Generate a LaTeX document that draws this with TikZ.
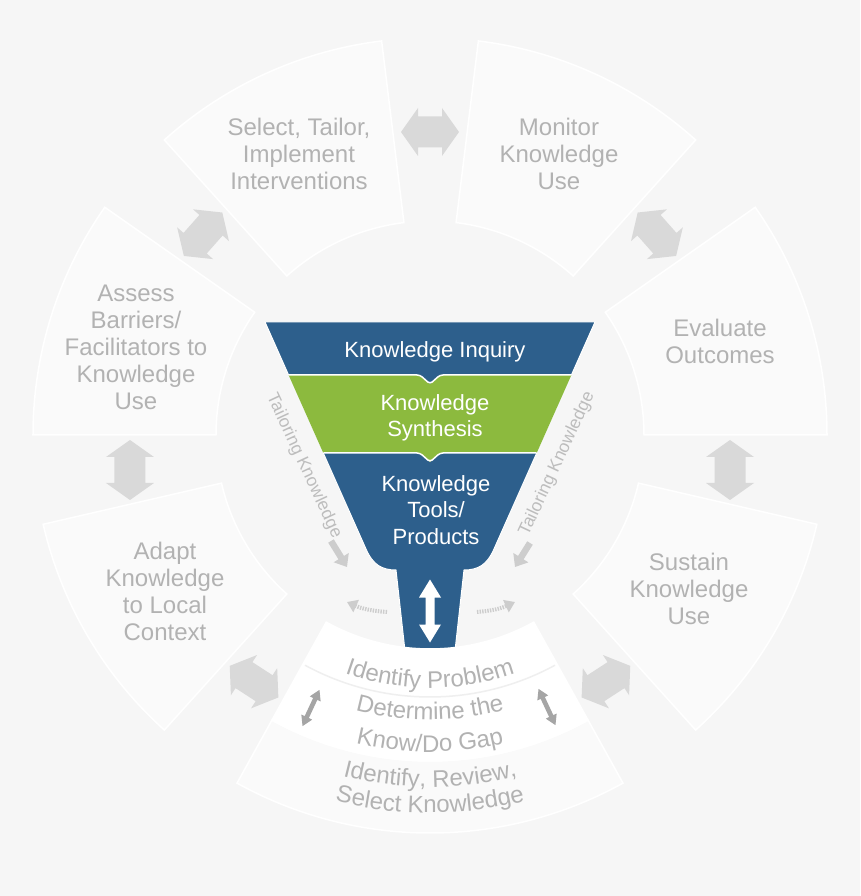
\documentclass[tikz,border=0pt]{standalone}
\usepackage{fontspec}
\setmainfont{Liberation Sans}
\usetikzlibrary{arrows.meta,decorations.text}

\definecolor{pagegray}{RGB}{246,246,246}
\definecolor{seccol}{RGB}{250,250,250}
\definecolor{txtgray}{RGB}{178,178,178}
\definecolor{arrgray}{RGB}{217,217,217}
\definecolor{darkarr}{RGB}{165,165,165}
\definecolor{taillight}{RGB}{205,205,205}
\definecolor{kblue}{RGB}{45,95,140}
\definecolor{kgreen}{RGB}{140,186,62}
\definecolor{linecol}{RGB}{239,239,239}

\newcommand{\bandfont}{\fontsize{24}{24}\selectfont\color{txtgray}}

\begin{document}
\begin{tikzpicture}[x=1pt, y=1pt,
  sector/.style={fill=seccol, draw=white, line width=1.5pt},
  steplabel/.style={text=txtgray, align=center, font=\fontsize{24}{27}\selectfont},
  funnellabel/.style={text=white, align=center, font=\fontsize{22}{26.5}\selectfont},
  taillabel/.style={text=txtgray!85!white, font=\fontsize{17.5}{17.5}\selectfont},
  tailarrow/.style={draw=taillight, line width=6.5pt, -{Triangle[width=17pt,length=11pt]}},
  dotarrow/.style={draw=taillight, line width=4pt, dash pattern=on 1.4pt off 1.2pt, -{Triangle[width=13pt,length=10pt]}},
  pics/dblarrow/.style args={#1/#2/#3/#4/#5}{code={
    \fill[#1] (-#2,0) -- (-#2+#5,#3) -- (-#2+#5,#4) -- (#2-#5,#4) -- (#2-#5,#3) -- (#2,0)
      -- (#2-#5,-#3) -- (#2-#5,-#4) -- (-#2+#5,-#4) -- (-#2+#5,-#3) -- cycle;}},
]
% page
\fill[pagegray] (-430,-461) rectangle (430,435);

% outer steps of the cycle
\foreach \a/\b in {0/35, 48/83, 97/132, 145/180, 193/228, 312/347}
  \filldraw[sector] (\a:214) arc[start angle=\a, end angle=\b, radius=214]
    -- (\b:397) arc[start angle=\b, end angle=\a, radius=397] -- cycle;

% funnel
\filldraw[fill=kblue, draw=white, line width=1pt] (-165,113) -- (165,113) -- (64,-114)
  .. controls (57,-130) and (48,-135) .. (34,-135) -- (24,-225) -- (-24,-225) -- (-34,-135)
  .. controls (-48,-135) and (-57,-130) .. (-64,-114) -- cycle;
\fill[kgreen] (-141.4,60) -- (-10,60) -- (0,51) -- (10,60) -- (141.4,60) -- (106.7,-18)
  -- (10,-18) -- (0,-27) -- (-10,-18) -- (-106.7,-18) -- cycle;
\draw[white, line width=1.5pt, rounded corners=3pt] (-141.4,60) -- (-10,60) -- (0,51) -- (10,60) -- (141.4,60);
\draw[white, line width=1.5pt, rounded corners=3pt] (-106.7,-18) -- (-10,-18) -- (0,-27) -- (10,-18) -- (106.7,-18);

% bottom band
\filldraw[sector] (241:326) arc[start angle=241, end angle=299, radius=326]
  -- (299:398) arc[start angle=299, end angle=241, radius=398] -- cycle;
\filldraw[fill=white, draw=white, line width=1.5pt] (241:214) arc[start angle=241, end angle=299, radius=214]
  -- (299:326) arc[start angle=299, end angle=241, radius=326] -- cycle;
\draw[linecol, line width=1.5pt] (241.5:262) arc[start angle=241.5, end angle=298.5, radius=262];

\path[decorate, decoration={text along path, text align=center, text={|\bandfont|Identify Problem}}]
  (240:253) arc[start angle=240, end angle=300, radius=253];
\path[decorate, decoration={text along path, text align=center, text={|\bandfont|Determine the}}]
  (240:285) arc[start angle=240, end angle=300, radius=285];
\path[decorate, decoration={text along path, text align=center, text={|\bandfont|Know/Do Gap}}]
  (240:317) arc[start angle=240, end angle=300, radius=317];
\path[decorate, decoration={text along path, text align=center, text={|\bandfont|Identify, Review,}}]
  (240:352) arc[start angle=240, end angle=300, radius=352];
\path[decorate, decoration={text along path, text align=center, text={|\bandfont|Select Knowledge}}]
  (240:378) arc[start angle=240, end angle=300, radius=378];

% arrows between the steps
\pic[rotate=0] at (90:303) {dblarrow=arrgray/29/24/15.5/17};
\pic[rotate=48.5] at (138.5:303) {dblarrow=arrgray/29/24/15.5/17};
\pic[rotate=131.5] at (41.5:303) {dblarrow=arrgray/29/24/15.5/17};
\pic[rotate=90] at (-300,-35) {dblarrow=arrgray/30/24/15.5/17};
\pic[rotate=90] at (300,-35) {dblarrow=arrgray/30/24/15.5/17};
\pic[rotate=-33] at (234.5:303) {dblarrow=arrgray/29/24/15.5/17};
\pic[rotate=33] at (305.5:303) {dblarrow=arrgray/29/24/15.5/17};
\pic[rotate=65] at (-119,-273) {dblarrow=darkarr/20/6/2.3/10};
\pic[rotate=115] at (117,-272) {dblarrow=darkarr/20/6/2.3/10};
\pic[rotate=90] at (0,-176) {dblarrow=white/31.5/11/4.5/18};

% tailoring knowledge
\coordinate (tl1) at (-99,-106);
\coordinate (tl2) at (-83,-132);
\coordinate (tr1) at (100,-108);
\coordinate (tr2) at (85,-132);
\draw[tailarrow] (tl1) -- (tl2);
\draw[tailarrow] (tr1) -- (tr2);
\coordinate (dl1) at (-43,-177);
\coordinate (dl2) at (-83,-167);
\coordinate (dr1) at (47,-177);
\coordinate (dr2) at (85,-167);
\draw[dotarrow] (dl1) to[bend left=10] (dl2);
\draw[dotarrow] (dr1) to[bend right=10] (dr2);
\node[taillabel, rotate=-65] (tailleft) at (-126,-31) {Tailoring Knowledge};
\node[taillabel, rotate=65] (tailright) at (127,-29) {Tailoring Knowledge};

% labels
\node[steplabel] (select) at (-131,281) {Select, Tailor,\\Implement\\Interventions};
\node[steplabel] (monitor) at (129,281) {Monitor\\Knowledge\\Use};
\node[steplabel] (evaluate) at (290,94) {Evaluate\\Outcomes};
\node[steplabel] (assess) at (-294,88) {Assess\\Barriers/\\Facilitators to\\Knowledge\\Use};
\node[steplabel] (adapt) at (-265,-156) {Adapt\\Knowledge\\to Local\\Context};
\node[steplabel] (sustain) at (259,-154) {Sustain\\Knowledge\\Use};

\node[funnellabel] (inquiry) at (5,83) {Knowledge Inquiry};
\node[funnellabel] (synthesis) at (5,17) {Knowledge\\Synthesis};
\node[funnellabel] (tools) at (6,-75) {Knowledge\\Tools/\\Products};
\end{tikzpicture}
\end{document}
